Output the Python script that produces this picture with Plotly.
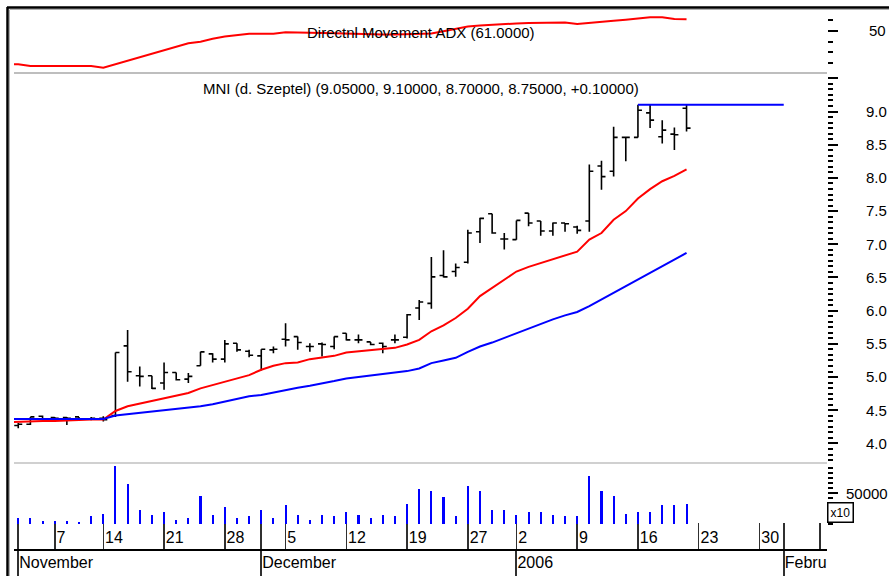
import plotly.graph_objects as go

# ---------------- data (bar index = trading day, 0 = 2 Nov 2005) ----------------
bars = list(range(56))
open_ = [4.27, 4.29, 4.41, 4.39, 4.39, 4.40, 4.37, 4.38, 4.42, 5.47,
         5.02, 5.02, 4.91, 5.07, 4.97, 5.17, 5.35, 5.27, 5.51, 5.39,
         5.32, 5.41, 5.57, 5.61, 5.46, 5.50, 5.46, 5.66, 5.56, 5.53,
         5.51, 5.56, 5.60, 6.04, 6.11, 6.53, 6.59, 6.73, 7.19, 7.46,
         7.08, 7.07, 7.47, 7.35, 7.20, 7.32, 7.26, 7.35, 8.18, 8.10,
         8.61, 8.61, 8.98, 8.62, 8.66, 9.05]
high = [4.31, 4.40, 4.42, 4.40, 4.40, 4.40, 4.40, 4.41, 5.37, 5.71,
        5.16, 5.02, 5.22, 5.07, 5.06, 5.38, 5.36, 5.56, 5.51, 5.41,
        5.42, 5.46, 5.81, 5.61, 5.51, 5.52, 5.61, 5.66, 5.64, 5.53,
        5.52, 5.64, 5.95, 6.16, 6.81, 6.91, 6.71, 7.22, 7.40, 7.46,
        7.17, 7.36, 7.47, 7.35, 7.33, 7.32, 7.28, 8.20, 8.26, 8.77,
        8.61, 9.10, 9.10, 8.87, 8.76, 9.10]
low = [4.23, 4.28, 4.36, 4.36, 4.28, 4.36, 4.35, 4.33, 4.40, 4.93,
       4.86, 4.82, 4.81, 4.95, 4.91, 5.17, 5.22, 5.22, 5.38, 5.30,
       5.10, 5.36, 5.46, 5.41, 5.38, 5.31, 5.42, 5.55, 5.51, 5.48,
       5.36, 5.51, 5.58, 5.86, 6.03, 6.50, 6.51, 6.71, 7.02, 7.16,
       6.92, 7.07, 7.27, 7.13, 7.13, 7.19, 7.16, 7.19, 7.82, 8.02,
       8.25, 8.61, 8.75, 8.52, 8.42, 8.70]
close = [4.29, 4.40, 4.37, 4.38, 4.38, 4.37, 4.38, 4.36, 5.37, 5.08,
         5.01, 4.83, 5.07, 4.96, 5.01, 5.38, 5.27, 5.50, 5.41, 5.33,
         5.42, 5.42, 5.56, 5.52, 5.46, 5.49, 5.61, 5.56, 5.56, 5.49,
         5.46, 5.56, 5.94, 6.13, 6.51, 6.51, 6.65, 7.17, 7.39, 7.17,
         7.08, 7.36, 7.32, 7.20, 7.32, 7.31, 7.21, 8.10, 8.02, 8.61,
         8.61, 9.02, 8.87, 8.72, 8.65, 8.75]

# indicator lines start one day before the first visible bar
line_x = list(range(-1, 56))
ma_short = [4.32, 4.33, 4.33, 4.34, 4.34, 4.35, 4.35, 4.36, 4.36, 4.49,
            4.56, 4.60, 4.63, 4.67, 4.72, 4.76, 4.83, 4.88, 4.94, 4.98,
            5.03, 5.11, 5.17, 5.21, 5.22, 5.27, 5.30, 5.32, 5.37, 5.39,
            5.40, 5.42, 5.44, 5.49, 5.56, 5.69, 5.78, 5.89, 6.03, 6.22,
            6.34, 6.46, 6.59, 6.66, 6.72, 6.78, 6.83, 6.89, 7.07, 7.17,
            7.37, 7.50, 7.69, 7.83, 7.95, 8.03, 8.13]
ma_long = [4.37, 4.37, 4.37, 4.37, 4.37, 4.37, 4.37, 4.37, 4.37, 4.42,
           4.44, 4.45, 4.47, 4.50, 4.51, 4.53, 4.56, 4.59, 4.63, 4.67,
           4.71, 4.73, 4.77, 4.81, 4.84, 4.87, 4.90, 4.94, 4.98, 5.00,
           5.02, 5.04, 5.06, 5.09, 5.13, 5.21, 5.25, 5.29, 5.38, 5.46,
           5.52, 5.59, 5.67, 5.73, 5.80, 5.87, 5.93, 5.98, 6.07, 6.17,
           6.27, 6.37, 6.48, 6.58, 6.67, 6.77, 6.87]
adx = [19.0, 19.0, 17.4, 17.4, 17.4, 17.4, 17.4, 17.4, 15.9, 19.2,
       22.4, 25.7, 29.0, 32.3, 35.6, 38.6, 40.0, 42.8, 44.8, 46.1,
       47.4, 47.4, 47.5, 48.7, 48.7, 48.5, 48.2, 47.8, 47.4, 47.0,
       46.9, 46.8, 46.8, 46.9, 47.3, 47.7, 49.8, 52.0, 54.1, 55.0,
       55.8, 56.5, 57.0, 57.3, 57.5, 57.7, 57.9, 56.6, 57.8, 58.4,
       59.6, 60.5, 61.3, 62.8, 62.8, 61.1, 61.0]
volume = [9800, 9800, 4300, 4300, 4300, 2700, 12500, 16800, 95000, 65000,
          22300, 15200, 19500, 7100, 9800, 46000, 15200, 28200, 9800, 12500,
          22300, 9800, 30400, 15200, 7100, 14700, 12500, 19500, 14700, 9800,
          14700, 12500, 33100, 57000, 54300, 44000, 12500, 62400, 54300, 22800,
          22800, 14700, 19500, 19500, 14700, 12500, 12500, 77600, 54300, 46100,
          16800, 19500, 19500, 30400, 30400, 33100]
resist_x = [51, 63]
resist_y = [9.10, 9.10]

day_ticks = [0, 3, 7, 12, 17, 20, 22, 27, 32, 37, 41, 46, 51, 56, 61, 63, 66]
day_labels = ['', '7', '14', '21', '28', '', '5', '12', '19', '27', '2', '9', '16', '23', '30', '', '6']
month_ticks = [0, 20, 41, 63]
month_labels = ['November', 'December', '2006', 'Febru']

price_major = [4.0, 4.5, 5.0, 5.5, 6.0, 6.5, 7.0, 7.5, 8.0, 8.5, 9.0, 9.5]
price_major_labels = ['4.0', '4.5', '5.0', '5.5', '6.0', '6.5', '7.0', '7.5', '8.0', '8.5', '9.0', '']
adx_major = [50]
adx_minor = [20, 30, 40, 60]
vol_major = [50000]

title_adx = 'Directnl Movement ADX (61.0000)'
title_price = 'MNI (d. Szeptel) (9.05000, 9.10000, 8.70000, 8.75000, +0.10000)'

# ---------------- layout geometry (pixels -> paper) ----------------
W, H = 889, 576
def px(y):
    return 1 - y / H
XDOM = [14 / W, 827 / W]
XR = [-0.35, 66.56]
FONT = 'Liberation Sans, Arial, sans-serif'

fig = go.Figure()
fig.add_trace(go.Scatter(x=line_x, y=adx, mode='lines', line=dict(color='#FF0000', width=2),
                         xaxis='x', yaxis='y', hoverinfo='skip'))
fig.add_trace(go.Ohlc(x=bars, open=open_, high=high, low=low, close=close,
                      increasing=dict(line=dict(color='black', width=1.6)),
                      decreasing=dict(line=dict(color='black', width=1.6)),
                      tickwidth=0.33, xaxis='x', yaxis='y2'))
fig.add_trace(go.Scatter(x=line_x, y=ma_short, mode='lines', line=dict(color='#FF0000', width=2),
                         xaxis='x', yaxis='y2', hoverinfo='skip'))
fig.add_trace(go.Scatter(x=line_x, y=ma_long, mode='lines', line=dict(color='#0000FF', width=2),
                         xaxis='x', yaxis='y2', hoverinfo='skip'))
fig.add_trace(go.Scatter(x=resist_x, y=resist_y, mode='lines', line=dict(color='#0000FF', width=2),
                         xaxis='x', yaxis='y2', hoverinfo='skip'))
fig.add_trace(go.Bar(x=bars, y=volume, width=0.17, marker=dict(color='#0000FF', line=dict(width=0)),
                     xaxis='x', yaxis='y3'))
fig.add_trace(go.Scatter(x=[0], y=[0], mode='markers', marker=dict(opacity=0),
                         xaxis='x2', yaxis='y3', hoverinfo='skip'))

tickfont = dict(family=FONT, size=15, color='black')

fig.update_layout(
    width=W, height=H, margin=dict(l=0, r=0, t=0, b=0, autoexpand=False),
    paper_bgcolor='white', plot_bgcolor='white', showlegend=False,
    font=dict(family=FONT, color='black'),
    bargap=0,
    xaxis=dict(domain=XDOM, range=XR, anchor='free', position=px(550),
               tickmode='array', tickvals=day_ticks, ticktext=day_labels,
               ticks='inside', ticklen=26, tickwidth=1.6, tickcolor='#303030',
               ticklabelposition='inside right', ticklabelstandoff=0,
               tickfont=dict(family=FONT, size=16, color='black'),
               showline=True, linecolor='black', linewidth=2,
               showgrid=False, zeroline=False, rangeslider=dict(visible=False), fixedrange=True),
    xaxis2=dict(domain=XDOM, range=XR, overlaying='x', anchor='free', position=px(550),
                tickmode='array', tickvals=month_ticks, ticktext=month_labels,
                ticks='outside', ticklen=26, tickwidth=2, tickcolor='#303030',
                ticklabelposition='outside right', ticklabelstandoff=-2,
                tickfont=dict(family=FONT, size=16, color='black'),
                showline=False, showgrid=False, zeroline=False),
    yaxis=dict(domain=[px(73), px(7)], range=[10.9, 72.3], side='right', anchor='x',
               tickmode='array', tickvals=adx_major, ticktext=['50'],
               ticks='outside', ticklen=10, tickwidth=2, tickcolor='black',
               minor=dict(tickmode='array', tickvals=adx_minor, ticks='outside', ticklen=5,
                          tickwidth=2, tickcolor='black'),
               ticklabelstandoff=28, tickfont=tickfont,
               showline=False, showgrid=False, zeroline=False),
    yaxis2=dict(domain=[px(463), px(73)], range=[3.706, 9.58], side='right', anchor='x',
                tickmode='array', tickvals=price_major, ticktext=price_major_labels,
                ticks='outside', ticklen=10, tickwidth=2, tickcolor='black',
                minor=dict(dtick=0.5 / 6, tick0=0, ticks='outside', ticklen=5, tickwidth=2,
                           tickcolor='black'),
                ticklabelstandoff=25, tickfont=tickfont,
                showline=False, showgrid=False, zeroline=False),
    yaxis3=dict(domain=[px(524), px(463)], range=[0, 99300], side='right', anchor='x',
                tickmode='array', tickvals=vol_major, ticktext=['50000'],
                ticks='outside', ticklen=10, tickwidth=2, tickcolor='black',
                minor=dict(dtick=50000 / 6, tick0=0, ticks='outside', ticklen=5, tickwidth=2,
                           tickcolor='black'),
                ticklabelstandoff=5, tickfont=tickfont,
                showline=False, showgrid=False, zeroline=False),
)

shapes = [
    # panel separators
    dict(type='line', xref='x domain', yref='paper', x0=0, x1=1, y0=px(73), y1=px(73),
         line=dict(color='#A8A8A8', width=1.5)),
    dict(type='line', xref='x domain', yref='paper', x0=0, x1=1, y0=px(463), y1=px(463),
         line=dict(color='#C0C0C0', width=1.5)),
    # outer frame (top and left)
    dict(type='line', xref='paper', yref='paper', x0=7 / W, x1=1, y0=px(7.5), y1=px(7.5),
         line=dict(color='black', width=2.5)),
    dict(type='line', xref='paper', yref='paper', x0=7.5 / W, x1=7.5 / W, y0=0, y1=px(7),
         line=dict(color='black', width=2.5)),
    dict(type='line', xref='paper', yref='paper', x0=10 / W, x1=1, y0=px(9.5), y1=px(9.5),
         line=dict(color='#B0B0B0', width=1)),
    dict(type='line', xref='paper', yref='paper', x0=9.5 / W, x1=9.5 / W, y0=0, y1=px(9.5),
         line=dict(color='#B0B0B0', width=1)),
]
fig.update_layout(shapes=shapes)

fig.update_layout(annotations=[
    dict(text=title_adx, xref='x domain', yref='paper', x=0.5, y=px(33), xanchor='center',
         yanchor='middle', showarrow=False, font=dict(family=FONT, size=15, color='black')),
    dict(text=title_price, xref='x domain', yref='paper', x=0.5, y=px(89), xanchor='center',
         yanchor='middle', showarrow=False, font=dict(family=FONT, size=15, color='black')),
    dict(text='x10', xref='paper', yref='paper', x=840 / W, y=px(512), xanchor='center',
         yanchor='middle', showarrow=False, font=dict(family=FONT, size=12, color='black'),
         bordercolor='black', borderwidth=1.5, borderpad=2, bgcolor='white'),
])

fig.write_html('out.html',
               config={'displayModeBar': False, 'responsive': False, 'staticPlot': True},
               post_script="document.body.style.margin='0';document.body.style.padding='0';"
                           "document.body.style.overflow='hidden';")
